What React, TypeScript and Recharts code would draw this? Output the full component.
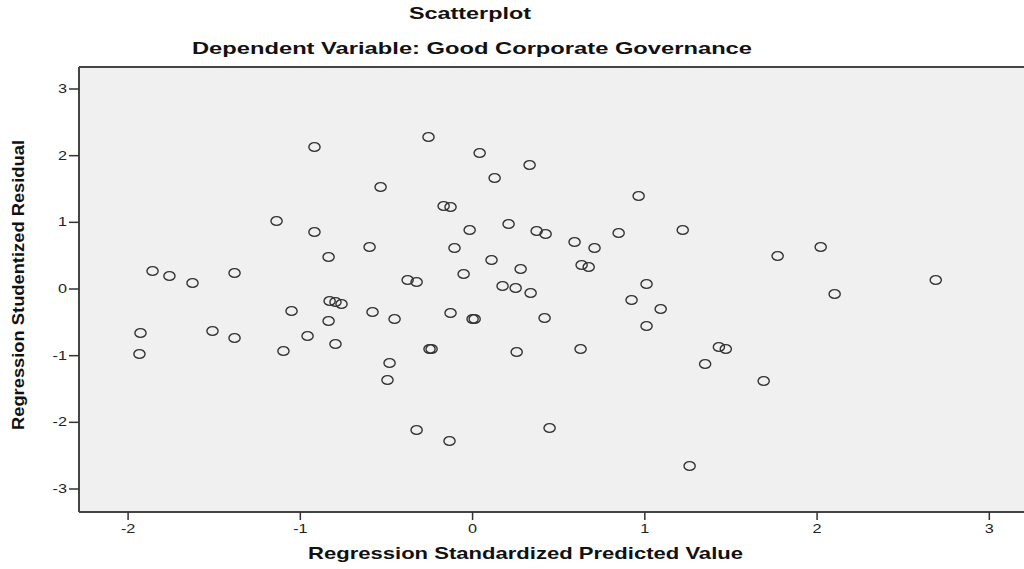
import React from 'react';
import { ScatterChart, Scatter, XAxis, YAxis, CartesianGrid, ReferenceLine } from 'recharts';

// regression standardized predicted value (x) / studentized residual (y)
const predicted = [
  -1.858, -1.76, -1.626, -1.382, -1.928, -1.934, -1.51, -1.382, -1.138, -1.051,
  -1.098, -0.958, -0.918, -0.918, -0.836, -0.83, -0.796, -0.761, -0.836, -0.796,
  -0.598, -0.581, -0.534, -0.482, -0.494, -0.453, -0.377, -0.325, -0.325, -0.256,
  -0.25, -0.238, -0.168, -0.128, -0.105, -0.128, -0.134, -0.052, -0.017, 0.0,
  0.012, 0.041, 0.11, 0.128, 0.174, 0.209, 0.25, 0.279, 0.256, 0.331,
  0.337, 0.372, 0.424, 0.418, 0.447, 0.592, 0.627, 0.633, 0.674, 0.708,
  0.848, 0.923, 0.964, 1.01, 1.01, 1.092, 1.22, 1.43, 1.47, 1.35,
  1.69, 1.26, 1.771, 2.021, 2.102, 2.689,
];
const residual = [
  0.27, 0.195, 0.09, 0.24, -0.66, -0.975, -0.63, -0.735, 1.02, -0.33,
  -0.93, -0.705, 0.855, 2.13, 0.48, -0.18, -0.195, -0.225, -0.48, -0.825,
  0.63, -0.345, 1.53, -1.11, -1.365, -0.45, 0.135, 0.105, -2.115, 2.28,
  -0.9, -0.9, 1.245, 1.23, 0.615, -0.36, -2.28, 0.225, 0.885, -0.45,
  -0.45, 2.04, 0.435, 1.665, 0.045, 0.975, 0.015, 0.3, -0.945, 1.86,
  -0.06, 0.87, 0.825, -0.435, -2.085, 0.705, -0.9, 0.36, 0.33, 0.615,
  0.84, -0.165, 1.395, 0.075, -0.555, -0.3, 0.885, -0.87, -0.9, -1.125,
  -1.38, -2.655, 0.495, 0.63, -0.075, 0.135,
];
const xTicks = [-2, -1, 0, 1, 2, 3];
const yTicks = [-3, -2, -1, 0, 1, 2, 3];

const points = predicted.map((x, i) => ({ x, y: residual[i] }));

const X_DOMAIN: [number, number] = [-2.285, 3.3];
const Y_DOMAIN: [number, number] = [-3.345, 3.33];

const FONT = "'Liberation Sans', Arial, sans-serif";
const NARROW = "'Liberation Sans Narrow', 'Arial Narrow', 'Liberation Sans', sans-serif";
const STRETCH = 1.35; // the source image is stretched sideways

// SPSS draws hollow markers
const Ring = (props: any) => (
  <ellipse cx={props.cx} cy={props.cy} rx={5.6} ry={4.4} fill="none" stroke="#333" strokeWidth={1.4} />
);

const XTick = ({ x, y, payload }: any) => (
  <text transform={`translate(${x},${y}) scale(${STRETCH},1)`} dy={11} textAnchor="middle" fontSize={12} fontFamily={FONT} fill="#222">
    {payload.value}
  </text>
);

const YTick = ({ x, y, payload }: any) => (
  <text transform={`translate(${x},${y}) scale(${STRETCH},1)`} dy={4} textAnchor="end" fontSize={12} fontFamily={FONT} fill="#222">
    {payload.value}
  </text>
);

export default function App() {
  return (
    <div style={{ position: 'fixed', left: 0, top: 0, width: 1024, height: 569, overflow: 'hidden', background: '#fff' }}>
      <ScatterChart width={1041} height={569} margin={{ top: 67, right: 0, bottom: 0, left: 0 }}>
        <CartesianGrid horizontal={false} vertical={false} fill="#f0f0f0" />
        <XAxis
          type="number"
          dataKey="x"
          domain={X_DOMAIN}
          ticks={xTicks}
          allowDataOverflow
          height={57}
          tickSize={8}
          tickMargin={2}
          axisLine={{ stroke: '#444', strokeWidth: 2 }}
          tickLine={{ stroke: '#333', strokeWidth: 1.5 }}
          tick={<XTick />}
        />
        <YAxis
          type="number"
          dataKey="y"
          domain={Y_DOMAIN}
          ticks={yTicks}
          allowDataOverflow
          width={79}
          tickSize={10}
          tickMargin={2}
          axisLine={{ stroke: '#444', strokeWidth: 2 }}
          tickLine={{ stroke: '#333', strokeWidth: 1.5 }}
          tick={<YTick />}
        />
        <ReferenceLine y={Y_DOMAIN[1]} stroke="#444" strokeWidth={2} ifOverflow="visible" />
        <Scatter data={points} shape={Ring} isAnimationActive={false} />
      </ScatterChart>
      <svg width={1024} height={569} style={{ position: 'absolute', left: 0, top: 0, pointerEvents: 'none' }}>
        <text x={470} y={19} textAnchor="middle" fontFamily={FONT} fontWeight="bold" fontSize={17} fill="#111" textLength={122} lengthAdjust="spacingAndGlyphs">
          Scatterplot
        </text>
        <text x={472} y={54} textAnchor="middle" fontFamily={FONT} fontWeight="bold" fontSize={17} fill="#111" textLength={560} lengthAdjust="spacingAndGlyphs">
          Dependent Variable: Good Corporate Governance
        </text>
        <text x={308} y={559} fontFamily={FONT} fontWeight="bold" fontSize={17} fill="#111" textLength={435} lengthAdjust="spacingAndGlyphs">
          Regression Standardized Predicted Value
        </text>
        <text x={24} y={285} transform="rotate(-90 24 285)" textAnchor="middle" fontFamily={NARROW} fontWeight="bold" fontSize={17} fill="#111" textLength={290} lengthAdjust="spacingAndGlyphs">
          Regression Studentized Residual
        </text>
      </svg>
    </div>
  );
}
